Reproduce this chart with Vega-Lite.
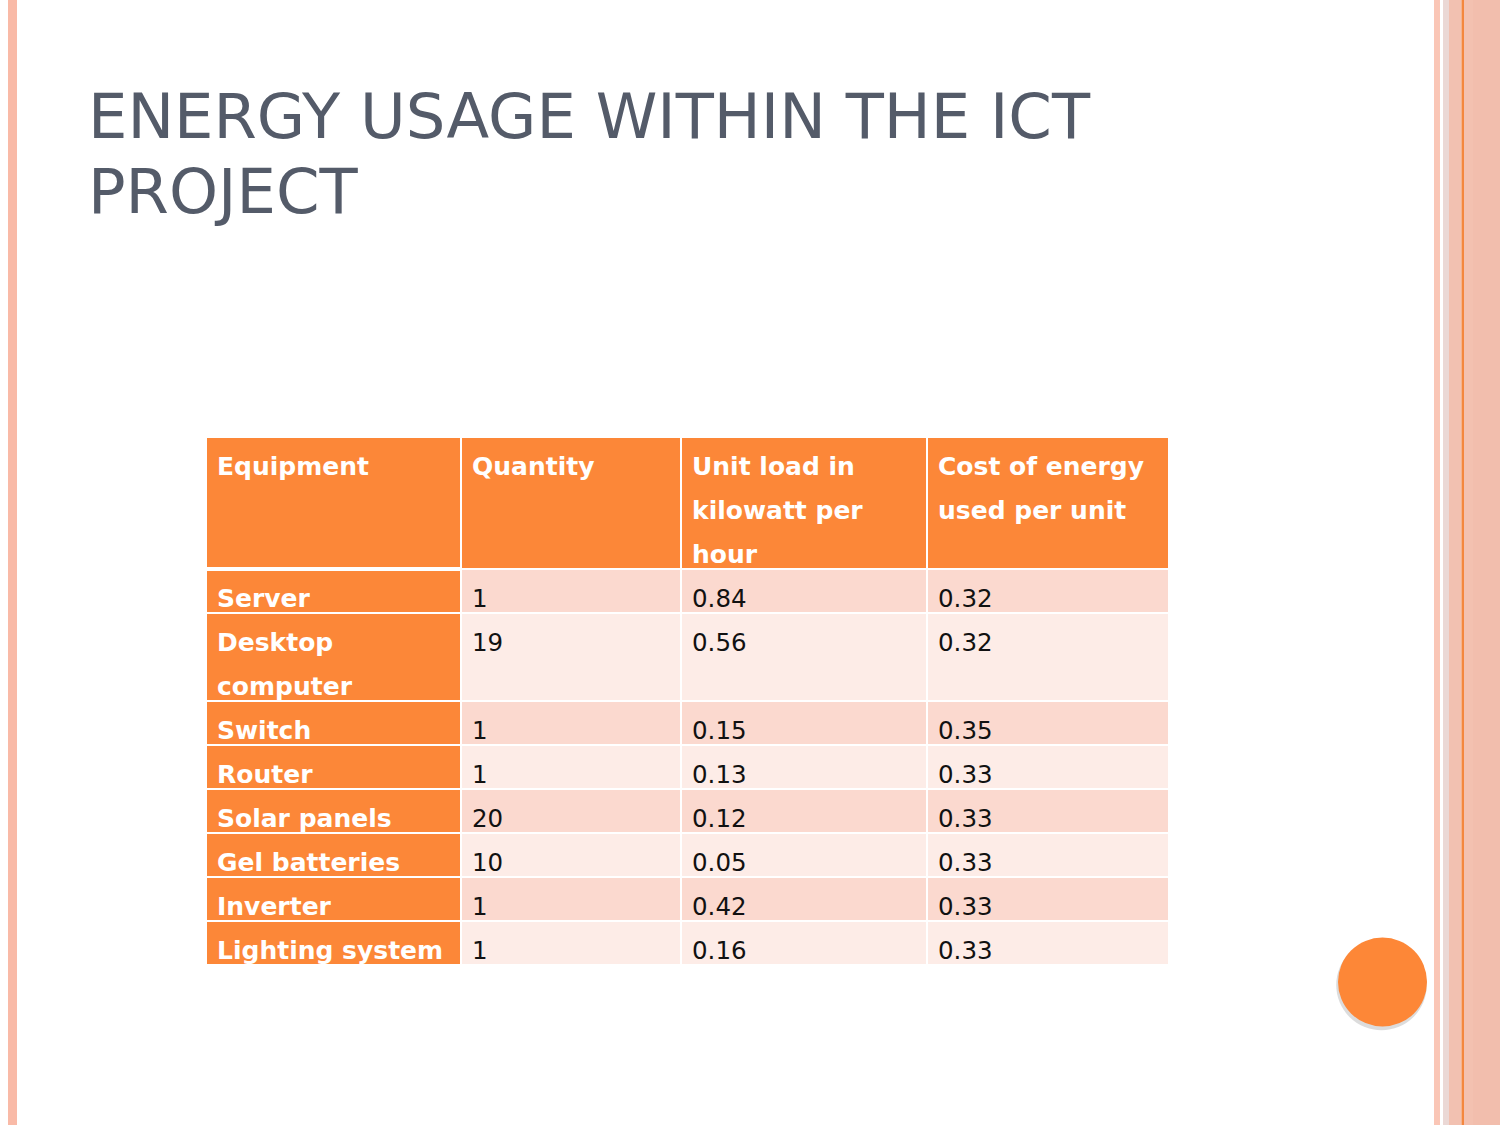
{
  "$schema": "https://vega.github.io/schema/vega-lite/v6.json",
  "width": 1500,
  "height": 1125,
  "autosize": {"type": "none"},
  "padding": 0,
  "background": "white",
  "config": {"view": {"stroke": null}, "font": "DejaVu Sans"},
  "title": {
    "text": ["ENERGY USAGE WITHIN THE ICT", "PROJECT"],
    "anchor": "start",
    "frame": "group",
    "orient": "top",
    "offset": 0,
    "dx": 88,
    "dy": 275,
    "baseline": "alphabetic",
    "fontSize": 62.4,
    "fontWeight": "normal",
    "font": "DejaVu Sans",
    "color": "#545B69",
    "lineHeight": 75
  },
  "layer": [
    {
      "data": {"values": [
        {"stripe": "left", "a": 0, "b": 1},
        {"stripe": "r1", "a": 2, "b": 3},
        {"stripe": "r2", "a": 4, "b": 5},
        {"stripe": "r3", "a": 5, "b": 6},
        {"stripe": "rline", "a": 6, "b": 7},
        {"stripe": "r4", "a": 7, "b": 8},
        {"stripe": "r5", "a": 8, "b": 9}
      ]},
      "mark": {"type": "rect"},
      "encoding": {
        "x": {"field": "a", "type": "quantitative", "axis": null,
              "scale": {"domain": [0, 1, 2, 3, 4, 5, 6, 7, 8, 9], "range": [8, 17, 1434, 1440, 1443, 1449, 1461.5, 1464, 1473, 1500], "nice": false, "zero": false}},
        "x2": {"field": "b"},
        "color": {"field": "stripe", "type": "nominal", "legend": null,
                  "scale": {"domain": ["left", "r1", "r2", "r3", "rline", "r4", "r5"],
                            "range": ["#F9BAA7", "#FAC6B6", "#EBD8D5", "#F2C1B1", "#F4873E", "#F3C1B0", "#F2BEAD"]}}
      }
    },
    {
      "data": {"values": [{"badge": "circle"}]},
      "layer": [
        {
          "mark": {"type": "point", "shape": "circle", "filled": true, "color": "#8a8a8a", "opacity": 0.3, "size": 8200, "xOffset": -1, "yOffset": 3},
          "encoding": {
            "x": {"field": "badge", "type": "nominal", "axis": null, "scale": {"type": "point", "range": [1338, 1427], "padding": 0}},
            "y": {"field": "badge", "type": "nominal", "axis": null, "scale": {"type": "point", "range": [937, 1027], "padding": 0}}
          }
        },
        {
          "mark": {"type": "point", "shape": "circle", "filled": true, "color": "#FD8737", "opacity": 1, "size": 7921},
          "encoding": {
            "x": {"field": "badge", "type": "nominal", "axis": null},
            "y": {"field": "badge", "type": "nominal", "axis": null}
          }
        }
      ]
    },
    {
      "data": {"values": [
        {"c": 0, "ce": 1, "r": 0, "re": 3, "kind": "head", "text": "Equipment"},
        {"c": 1, "ce": 2, "r": 0, "re": 3, "kind": "head", "text": "Quantity"},
        {"c": 2, "ce": 3, "r": 0, "re": 3, "kind": "head", "text": "Unit load in\nkilowatt per\nhour"},
        {"c": 3, "ce": 4, "r": 0, "re": 3, "kind": "head", "text": "Cost of energy\nused per unit"},

        {"c": 0, "ce": 1, "r": 3, "re": 4, "kind": "first", "text": "Server"},
        {"c": 1, "ce": 2, "r": 3, "re": 4, "kind": "odd", "text": "1"},
        {"c": 2, "ce": 3, "r": 3, "re": 4, "kind": "odd", "text": "0.84"},
        {"c": 3, "ce": 4, "r": 3, "re": 4, "kind": "odd", "text": "0.32"},

        {"c": 0, "ce": 1, "r": 4, "re": 6, "kind": "first", "text": "Desktop\ncomputer"},
        {"c": 1, "ce": 2, "r": 4, "re": 6, "kind": "even", "text": "19"},
        {"c": 2, "ce": 3, "r": 4, "re": 6, "kind": "even", "text": "0.56"},
        {"c": 3, "ce": 4, "r": 4, "re": 6, "kind": "even", "text": "0.32"},

        {"c": 0, "ce": 1, "r": 6, "re": 7, "kind": "first", "text": "Switch"},
        {"c": 1, "ce": 2, "r": 6, "re": 7, "kind": "odd", "text": "1"},
        {"c": 2, "ce": 3, "r": 6, "re": 7, "kind": "odd", "text": "0.15"},
        {"c": 3, "ce": 4, "r": 6, "re": 7, "kind": "odd", "text": "0.35"},

        {"c": 0, "ce": 1, "r": 7, "re": 8, "kind": "first", "text": "Router"},
        {"c": 1, "ce": 2, "r": 7, "re": 8, "kind": "even", "text": "1"},
        {"c": 2, "ce": 3, "r": 7, "re": 8, "kind": "even", "text": "0.13"},
        {"c": 3, "ce": 4, "r": 7, "re": 8, "kind": "even", "text": "0.33"},

        {"c": 0, "ce": 1, "r": 8, "re": 9, "kind": "first", "text": "Solar panels"},
        {"c": 1, "ce": 2, "r": 8, "re": 9, "kind": "odd", "text": "20"},
        {"c": 2, "ce": 3, "r": 8, "re": 9, "kind": "odd", "text": "0.12"},
        {"c": 3, "ce": 4, "r": 8, "re": 9, "kind": "odd", "text": "0.33"},

        {"c": 0, "ce": 1, "r": 9, "re": 10, "kind": "first", "text": "Gel batteries"},
        {"c": 1, "ce": 2, "r": 9, "re": 10, "kind": "even", "text": "10"},
        {"c": 2, "ce": 3, "r": 9, "re": 10, "kind": "even", "text": "0.05"},
        {"c": 3, "ce": 4, "r": 9, "re": 10, "kind": "even", "text": "0.33"},

        {"c": 0, "ce": 1, "r": 10, "re": 11, "kind": "first", "text": "Inverter"},
        {"c": 1, "ce": 2, "r": 10, "re": 11, "kind": "odd", "text": "1"},
        {"c": 2, "ce": 3, "r": 10, "re": 11, "kind": "odd", "text": "0.42"},
        {"c": 3, "ce": 4, "r": 10, "re": 11, "kind": "odd", "text": "0.33"},

        {"c": 0, "ce": 1, "r": 11, "re": 12, "kind": "first", "text": "Lighting system"},
        {"c": 1, "ce": 2, "r": 11, "re": 12, "kind": "even", "text": "1"},
        {"c": 2, "ce": 3, "r": 11, "re": 12, "kind": "even", "text": "0.16"},
        {"c": 3, "ce": 4, "r": 11, "re": 12, "kind": "even", "text": "0.33"}
      ]},
      "layer": [
        {
          "mark": {"type": "rect", "stroke": "white", "strokeWidth": 2},
          "encoding": {
            "x": {"field": "c", "type": "quantitative", "axis": null,
                  "scale": {"domain": [0, 1, 2, 3, 4], "range": [206, 461, 681, 927, 1169], "nice": false, "zero": false}},
            "x2": {"field": "ce"},
            "y": {"field": "r", "type": "quantitative", "axis": null,
                  "scale": {"domain": [0, 12], "range": [437, 965], "nice": false, "zero": false}},
            "y2": {"field": "re"},
            "color": {"field": "kind", "type": "nominal", "legend": null,
                      "scale": {"domain": ["head", "first", "odd", "even"], "range": ["#FC8738", "#FC8738", "#FBD9CF", "#FDECE7"]}}
          }
        },
        {
          "transform": [{"filter": {"field": "kind", "equal": "head"}}, {"filter": {"field": "c", "equal": 0}}],
          "mark": {"type": "rule", "stroke": "white", "strokeWidth": 4},
          "encoding": {
            "x": {"field": "c", "type": "quantitative", "axis": null},
            "x2": {"field": "ce", "type": "quantitative"},
            "y": {"field": "re", "type": "quantitative", "axis": null}
          }
        },
        {
          "transform": [{"filter": {"field": "kind", "oneOf": ["head", "first"]}}],
          "mark": {"type": "text", "align": "left", "baseline": "alphabetic", "dx": 11, "dy": 38, "fontSize": 25, "fontWeight": "bold", "font": "DejaVu Sans", "color": "white", "lineBreak": "\n", "lineHeight": 44},
          "encoding": {
            "x": {"field": "c", "type": "quantitative", "axis": null},
            "y": {"field": "r", "type": "quantitative", "axis": null},
            "text": {"field": "text", "type": "nominal"}
          }
        },
        {
          "transform": [{"filter": {"field": "kind", "oneOf": ["odd", "even"]}}],
          "mark": {"type": "text", "align": "left", "baseline": "alphabetic", "dx": 11, "dy": 38, "fontSize": 24.5, "fontWeight": "normal", "font": "DejaVu Sans", "color": "#111111", "lineBreak": "\n", "lineHeight": 44},
          "encoding": {
            "x": {"field": "c", "type": "quantitative", "axis": null},
            "y": {"field": "r", "type": "quantitative", "axis": null},
            "text": {"field": "text", "type": "nominal"}
          }
        }
      ]
    }
  ],
  "resolve": {"scale": {"x": "independent", "y": "independent", "color": "independent"}}
}
